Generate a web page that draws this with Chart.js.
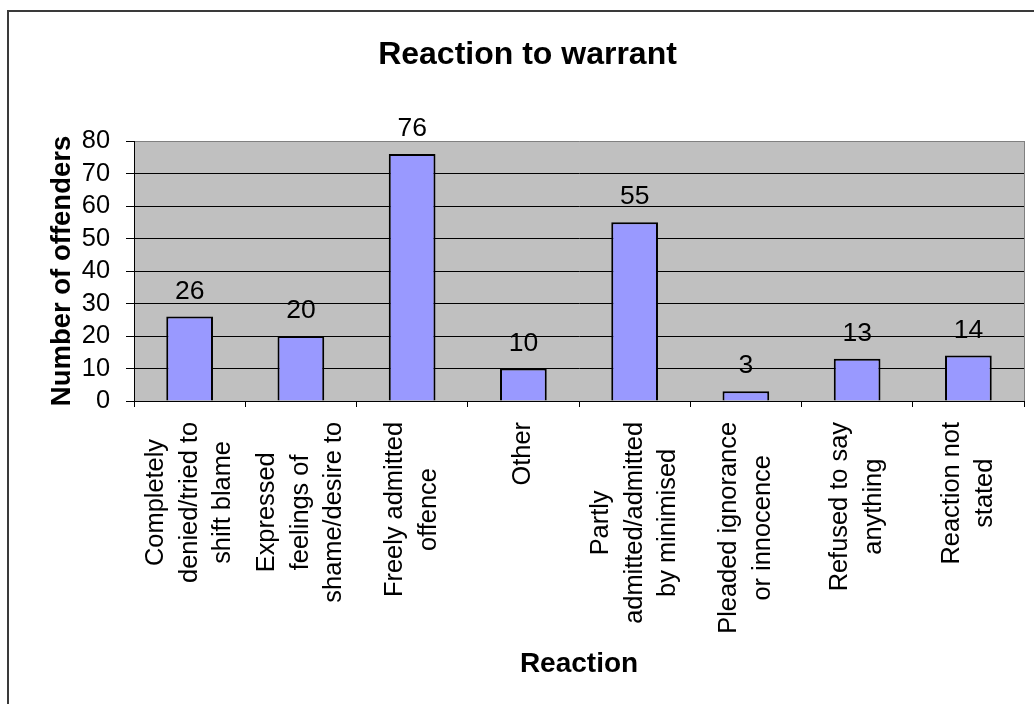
<!DOCTYPE html>
<html>
<head>
<meta charset="utf-8">
<script src="https://cdn.jsdelivr.net/npm/chart.js@4.4.1/dist/chart.umd.min.js"></script>
<style>
  html, body { margin: 0; padding: 0; background: #ffffff; }
  #wrap { position: relative; width: 1034px; height: 704px; }
</style>
</head>
<body>
<div id="wrap"><canvas id="c" width="1034" height="704"></canvas></div>
<script>
const chartTitle = "Reaction to warrant";
const xAxisTitle = "Reaction";
const yAxisTitle = "Number of offenders";
const categories = [
  ["Completely", "denied/tried to", "shift blame"],
  ["Expressed", "feelings of", "shame/desire to"],
  ["Freely admitted", "offence"],
  ["Other"],
  ["Partly", "admitted/admitted", "by minimised"],
  ["Pleaded ignorance", "or innocence"],
  ["Refused to say", "anything"],
  ["Reaction not", "stated"]
];
const offenders = [26, 20, 76, 10, 55, 3, 13, 14];
const yTickValues = [0, 10, 20, 30, 40, 50, 60, 70, 80];

const FONT = "'Liberation Sans', Arial, Helvetica, sans-serif";

const framePlugin = {
  id: 'frame',
  beforeDraw(chart) {
    const { ctx, chartArea: a } = chart;
    ctx.save();
    ctx.fillStyle = '#C0C0C0';
    ctx.fillRect(a.left, a.top, a.right - a.left, a.bottom - a.top);
    ctx.restore();
    // center multi-line rotated x tick labels
    const sc = chart.scales.x;
    const items = sc.getLabelItems();
    items.forEach(it => {
      if (it._centered) return;
      const lines = Array.isArray(it.label) ? it.label : [it.label];
      ctx.save();
      ctx.font = it.font.string;
      const w = Math.max(...lines.map(l => ctx.measureText(l).width));
      ctx.restore();
      const lh = it.font.lineHeight;
      it.options.textAlign = 'center';
      it.options.translation = [it.options.translation[0] - (lines.length - 1) * lh / 2, it.options.translation[1] + w / 2];
      it._centered = true;
    });
  },
  beforeDatasetsDraw(chart) {
    const { ctx, chartArea: a } = chart;
    ctx.save();
    ctx.strokeStyle = '#808080';
    ctx.lineWidth = 1;
    ctx.beginPath();
    ctx.moveTo(Math.round(a.right) + 0.5, a.top);
    ctx.lineTo(Math.round(a.right) + 0.5, a.bottom);
    ctx.stroke();
    ctx.restore();
  },
  afterDatasetsDraw(chart) {
    const { ctx } = chart;
    const meta = chart.getDatasetMeta(0);
    ctx.save();
    ctx.font = "26.5px " + FONT;
    ctx.fillStyle = '#000';
    ctx.textAlign = 'center';
    ctx.textBaseline = 'alphabetic';
    meta.data.forEach((bar, i) => {
      ctx.fillText(String(chart.data.datasets[0].data[i]), bar.x, bar.y - 18);
    });
    ctx.restore();
  },
  afterDraw(chart) {
    const { ctx } = chart;
    ctx.save();
    ctx.strokeStyle = '#3a3a3a';
    ctx.lineWidth = 2;
    ctx.strokeRect(8, 11, 3000, 3000);
    ctx.restore();
  }
};

new Chart(document.getElementById('c'), {
  type: 'bar',
  data: {
    labels: categories,
    datasets: [{
      data: offenders,
      backgroundColor: '#9999FF',
      borderColor: '#000000',
      borderWidth: 2,
      barPercentage: 0.42,
      categoryPercentage: 1.0
    }]
  },
  options: {
    responsive: false,
    animation: false,
    devicePixelRatio: 1,
    layout: { padding: { left: 31, right: 10, top: 0, bottom: 0 } },
    plugins: {
      legend: { display: false },
      tooltip: { enabled: false },
      title: {
        display: true,
        text: chartTitle,
        color: '#000',
        font: { family: FONT, size: 32, weight: 'bold', lineHeight: 1.2 },
        padding: { top: 36, bottom: 66.6 }
      }
    },
    scales: {
      x: {
        type: 'category',
        offset: true,
        grid: {
          display: true,
          offset: true,
          drawOnChartArea: false,
          drawTicks: true,
          tickLength: 6,
          tickColor: '#000',
          color: '#000'
        },
        border: { display: true, color: '#000', width: 1 },
        ticks: {
          autoSkip: false,
          minRotation: 90,
          maxRotation: 90,
          padding: 15,
          color: '#000',
          font: { family: FONT, size: 25.4, lineHeight: 1.32 }
        },
        title: {
          display: true,
          text: xAxisTitle,
          color: '#000',
          font: { family: FONT, size: 28, weight: 'bold', lineHeight: 1.2 },
          padding: { top: 0, bottom: 23 }
        },
        afterFit(scale) {
          scale.height = 303;
          scale.paddingLeft = 0;
          scale.paddingRight = 0;
        }
      },
      y: {
        min: 0,
        max: 80,
        afterBuildTicks(scale) { scale.ticks = yTickValues.map(v => ({ value: v })); },
        grid: {
          drawTicks: true,
          tickLength: 8,
          tickColor: '#000',
          color: ctx => (ctx.tick && ctx.tick.value === 80 ? '#808080' : '#000000'),
          lineWidth: 1
        },
        border: { display: true, color: '#000', width: 1 },
        ticks: {
          autoSkip: false,
          padding: 16,
          color: '#000',
          font: { family: FONT, size: 25.4 }
        },
        title: {
          display: true,
          text: yAxisTitle,
          color: '#000',
          font: { family: FONT, size: 27.5, weight: 'bold', lineHeight: 1.2 },
          padding: { top: 15, bottom: 0 }
        },
        afterFit(scale) { scale.width = 103; }
      }
    }
  },
  plugins: [framePlugin]
});
</script>
</body>
</html>
